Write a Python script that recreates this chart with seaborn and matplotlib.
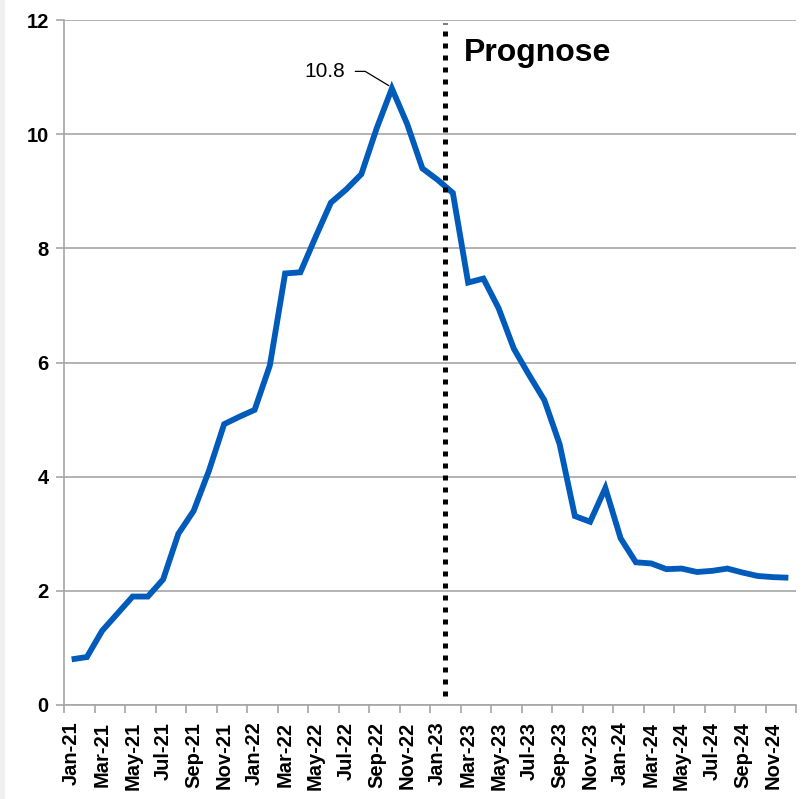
import matplotlib
matplotlib.use("Agg")
import matplotlib.pyplot as plt
import numpy as np
import pandas as pd
import seaborn as sns
from matplotlib.patches import Rectangle

# Monthly values, Jan-21 .. Dec-24
months = pd.date_range("2021-01-01", "2024-12-01", freq="MS").strftime("%b-%y").tolist()
values = [
    0.80, 0.84, 1.30, 1.60, 1.90, 1.90, 2.20, 3.00, 3.40, 4.10, 4.92, 5.05,
    5.17, 5.95, 7.56, 7.58, 8.20, 8.80, 9.03, 9.30, 10.10, 10.80, 10.18, 9.40,
    9.20, 8.97, 7.40, 7.47, 6.95, 6.24, 5.78, 5.34, 4.57, 3.31, 3.21, 3.80,
    2.92, 2.50, 2.48, 2.38, 2.39, 2.33, 2.35, 2.39, 2.32, 2.26, 2.24, 2.23,
]
forecast_start = "Feb-23"
peak_label = "10.8"

df = pd.DataFrame({"month": months, "value": values})
df["idx"] = np.arange(len(df))

sns.set_style("white")
plt.rcParams["font.family"] = ["Liberation Sans", "DejaVu Sans"]
plt.rcParams["text.color"] = "black"
plt.rcParams["xtick.labelcolor"] = "black"
plt.rcParams["ytick.labelcolor"] = "black"

fig = plt.figure(figsize=(8.02, 7.99), dpi=100)
fig.patches.append(Rectangle((0, 0), 4 / 802, 1, transform=fig.transFigure,
                             color="#f0f0f0", zorder=-1))
ax = fig.add_axes([64 / 802, 94 / 799, 732 / 802, 685 / 799])

sns.lineplot(data=df, x="idx", y="value", color="#005BBB", linewidth=4.2,
             solid_joinstyle="miter", solid_capstyle="butt", ax=ax)

ax.set_xlim(-0.5, len(df) - 0.5)
ax.set_ylim(0, 12)
ax.set_yticks(np.arange(0, 13, 2))
ax.grid(axis="y", color="#a6a6a6", linewidth=1.2)
ax.set_axisbelow(True)

# category labels every 2 months, ticks on category boundaries
ax.set_xticks(df["idx"][::2])
ax.set_xticklabels(df["month"][::2], rotation=90, fontsize=14.5, fontweight="bold")
ax.set_xticks(np.arange(-0.5, len(df), 2), minor=True)
ax.tick_params(axis="x", which="major", length=0, pad=12)
ax.tick_params(axis="x", which="minor", length=6, width=1.2, color="#a6a6a6",
               direction="out", bottom=True)
ax.tick_params(axis="y", length=6, width=1.2, color="#a6a6a6", direction="out",
               left=True, labelsize=14.5, pad=5)
for lab in ax.get_yticklabels():
    lab.set_fontweight("bold")

for s in ["top", "right"]:
    ax.spines[s].set_visible(False)
for s in ["left", "bottom"]:
    ax.spines[s].set_color("#a6a6a6")
    ax.spines[s].set_linewidth(1.2)

ax.set_xlabel("")
ax.set_ylabel("")

# forecast divider
xv = months.index(forecast_start) - 0.5
ax.plot([xv, xv], [0.15, 11.95], color="black", linewidth=3.6,
        linestyle=(0, (1, 1.4)), solid_capstyle="butt", dash_capstyle="butt")
ax.text(xv + 1.2, 11.42, "Prognose", fontsize=23, fontweight="bold",
        ha="left", va="center")

# peak annotation with a bent leader line
ipk = int(np.argmax(values))
ty = 11.1
ax.text(ipk - 3.07, ty, peak_label, fontsize=15, ha="right", va="center")
ax.plot([ipk - 2.4, ipk - 1.75, ipk - 0.2], [ty, ty, values[ipk] + 0.05],
        color="black", linewidth=0.9)

fig.savefig("out.png", dpi=100)
